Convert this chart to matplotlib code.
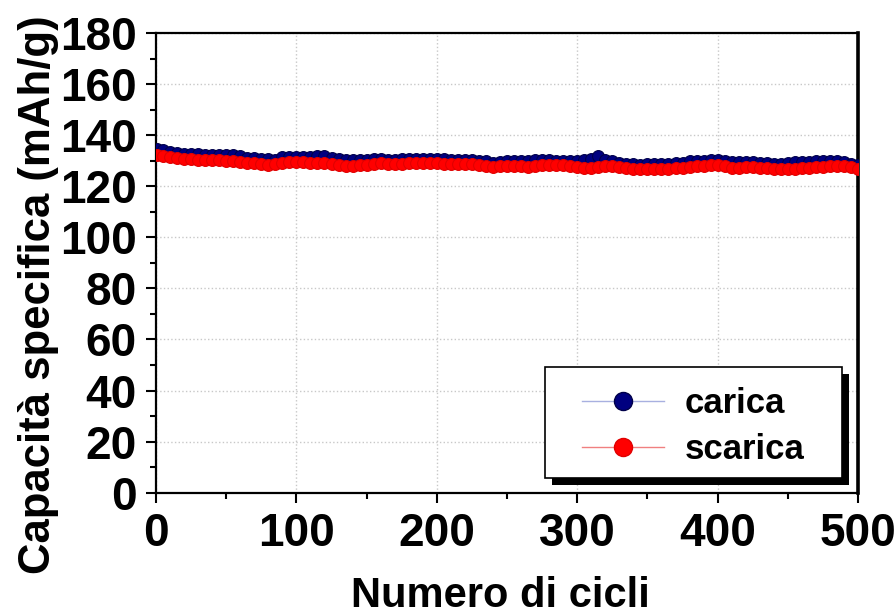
import matplotlib
matplotlib.use('Agg')
import matplotlib.pyplot as plt
from matplotlib.lines import Line2D
from matplotlib.patches import Rectangle
from matplotlib.ticker import MultipleLocator
import numpy as np

# cicli: 1, 5, 10, ..., 500
cicli = np.r_[1, np.arange(5, 501, 5)]

carica = [
    134.6, 134.0, 133.5, 133.0, 132.7, 132.6, 132.5, 132.4, 132.3, 132.2,
    132.4, 132.3, 131.8, 131.2, 131.0, 130.8, 130.5, 130.4, 131.3, 131.5,
    131.4, 131.4, 131.6, 131.8, 131.7, 131.0, 130.6, 130.4, 130.3, 130.4,
    130.3, 130.5, 130.8, 130.2, 130.3, 130.5, 130.6, 130.7, 130.7, 130.6,
    130.7, 130.5, 130.3, 130.3, 130.4, 130.3, 130.0, 129.7, 129.1, 129.4,
    129.9, 130.0, 129.9, 129.7, 130.1, 130.3, 130.2, 130.0, 130.0, 129.8,
    129.9, 130.3, 130.6, 132.0, 130.2, 129.9, 129.1, 128.9, 128.6, 128.5,
    128.7, 128.8, 128.8, 128.9, 129.0, 129.2, 129.7, 129.9, 130.0, 130.2,
    130.3, 129.9, 129.4, 129.3, 129.4, 129.4, 129.2, 129.0, 128.8, 128.9,
    129.1, 129.4, 129.5, 129.6, 129.8, 129.8, 129.9, 129.8, 129.5, 128.8,
    128.5]

scarica = [
    132.4, 132.0, 131.5, 131.0, 130.7, 130.5, 130.4, 130.3, 130.2, 130.2,
    130.0, 129.8, 129.5, 129.2, 129.0, 128.8, 128.5, 128.6, 129.2, 129.4,
    129.4, 129.3, 129.2, 129.2, 129.0, 128.6, 128.4, 128.1, 128.1, 128.3,
    128.5, 128.8, 129.1, 128.6, 128.8, 128.9, 129.1, 129.2, 129.2, 129.2,
    129.1, 128.9, 128.8, 128.8, 128.8, 128.6, 128.3, 128.0, 127.6, 127.8,
    128.1, 128.0, 127.8, 127.6, 128.1, 128.5, 128.5, 128.5, 128.2, 127.8,
    127.6, 127.3, 127.2, 127.5, 127.8, 127.9, 127.6, 127.2, 126.8, 126.6,
    126.6, 126.6, 126.7, 126.9, 127.1, 127.3, 127.5, 127.8, 128.1, 128.4,
    128.5, 128.0, 127.3, 127.3, 127.5, 127.6, 127.3, 127.0, 126.7, 126.6,
    126.7, 126.9, 127.1, 127.3, 127.5, 127.7, 127.9, 128.1, 127.8, 127.4,
    126.6]

etichette = ['carica', 'scarica']

plt.rcParams['font.family'] = ['Liberation Sans', 'DejaVu Sans']
plt.rcParams['font.weight'] = 'bold'

fig = plt.figure(figsize=(8.95, 6.16), dpi=100)
ax = fig.add_axes([0.1743, 0.2002, 0.7844, 0.7462])

ax.plot(cicli, carica, 'o', color='#000080', markersize=8.5,
        markeredgecolor='#00004a', markeredgewidth=0.8, zorder=3)
ax.plot(cicli, scarica, 'o', color='#ff0000', markersize=8.5,
        markeredgecolor='#e00000', markeredgewidth=0.8, zorder=4)

ax.set_xlim(0, 500)
ax.set_ylim(0, 180)
ax.xaxis.set_major_locator(MultipleLocator(100))
ax.xaxis.set_minor_locator(MultipleLocator(50))
ax.yaxis.set_major_locator(MultipleLocator(20))
ax.yaxis.set_minor_locator(MultipleLocator(10))
ax.grid(True, which='major', linestyle=':', color='#c8c8c8', linewidth=1)
ax.set_axisbelow(True)

ax.tick_params(which='major', direction='out', length=7, width=1.5,
               labelsize=33, pad=7)
ax.tick_params(which='minor', direction='out', length=4.5, width=1.5)
for lab in ax.get_xticklabels() + ax.get_yticklabels():
    lab.set_fontweight('bold')

for s in ['left', 'bottom', 'top']:
    ax.spines[s].set_linewidth(1.6)
ax.spines['right'].set_linewidth(2.6)

ax.set_xlabel('Numero di cicli', fontsize=30, fontweight='bold', va='baseline')
ax.xaxis.set_label_coords(0.491, -0.2486)
ax.set_ylabel('Capacità specifica (mAh/g)', fontsize=31.5, fontweight='bold',
              va='baseline', rotation_mode='anchor')
ax.yaxis.set_label_coords(-0.151, 0.43)

# legenda con cornice e ombra nera
maniglie = [
    Line2D([], [], color='#a8b0e0', lw=1, marker='o', markersize=13,
           markerfacecolor='#000080', markeredgecolor='#00004a'),
    Line2D([], [], color='#f08080', lw=1, marker='o', markersize=13,
           markerfacecolor='#ff0000', markeredgecolor='#e00000'),
]
leg = ax.legend(maniglie, etichette, loc='upper left',
                bbox_to_anchor=(0.607, 0.230), frameon=False,
                prop={'size': 25, 'weight': 'bold'},
                handlelength=2.35, handletextpad=0.6, labelspacing=0.37,
                borderpad=0, borderaxespad=0)
leg.set_zorder(10)

ax.add_patch(Rectangle((0.564, 0.017), 0.423, 0.241, transform=ax.transAxes,
                       facecolor='black', edgecolor='none', zorder=8,
                       clip_on=False))
ax.add_patch(Rectangle((0.554, 0.032), 0.423, 0.241, transform=ax.transAxes,
                       facecolor='white', edgecolor='black', linewidth=1.2,
                       zorder=9, clip_on=False))

fig.savefig('out.png', dpi=100)
